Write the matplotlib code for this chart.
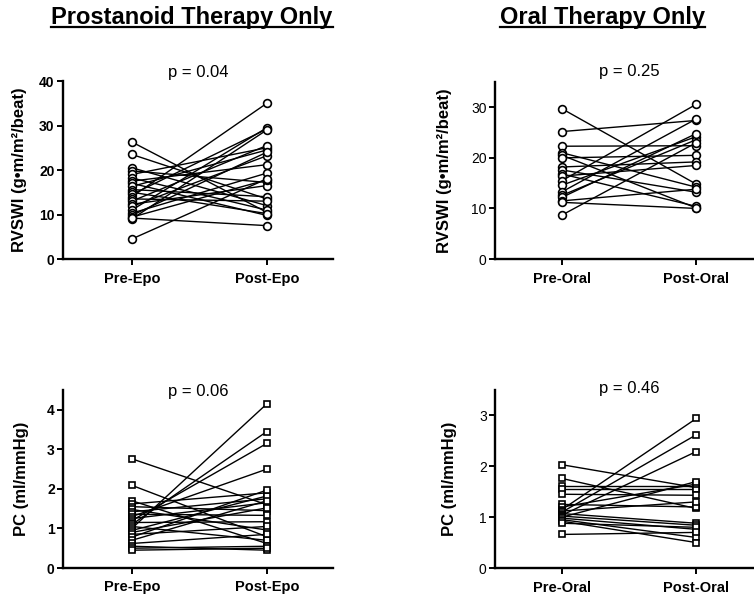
import matplotlib
matplotlib.use("Agg")
import matplotlib.pyplot as plt
from matplotlib.lines import Line2D

plt.rcParams['font.family'] = ['Liberation Sans', 'DejaVu Sans']

# ---------------- data ----------------
titles = ["Prostanoid Therapy Only", "Oral Therapy Only"]

epo_labels = ["Pre-Epo", "Post-Epo"]
oral_labels = ["Pre-Oral", "Post-Oral"]

rvswi_epo_pre = [26.3, 23.5, 20.5, 19.8, 19.0, 18.2, 17.5, 17.0, 16.3, 15.6, 15.0, 14.5,
                 14.0, 13.5, 13.0, 12.3, 11.8, 11.0, 10.3, 9.8, 9.4, 9.0, 9.2, 4.5]
rvswi_epo_post = [10.5, 13.5, 12.0, 17.2, 25.0, 11.0, 21.2, 9.8, 24.5, 14.0, 10.2, 29.2,
                  35.0, 13.0, 25.5, 16.5, 23.2, 29.5, 19.3, 24.0, 17.8, 29.0, 7.5, 18.0]

rvswi_oral_pre = [29.7, 25.2, 22.3, 21.0, 20.5, 20.0, 18.2, 17.6, 16.8, 16.4, 15.5, 14.6,
                  13.3, 12.6, 12.2, 11.5, 11.2, 8.7]
rvswi_oral_post = [14.8, 27.4, 22.4, 14.2, 10.1, 20.5, 19.2, 13.2, 10.4, 18.5, 30.6, 24.2,
                   27.7, 23.6, 24.8, 13.8, 10.0, 23.0]

pc_epo_pre = [2.76, 2.09, 1.70, 1.62, 1.55, 1.48, 1.42, 1.36, 1.30, 1.25, 1.20, 1.15,
              1.10, 1.05, 1.00, 0.95, 0.90, 0.85, 0.78, 0.70, 0.62, 0.55, 0.50, 0.45]
pc_epo_post = [1.60, 0.79, 0.62, 1.90, 1.45, 0.96, 1.75, 1.33, 2.50, 1.65, 3.15, 1.17,
               3.45, 0.70, 4.15, 1.82, 1.52, 1.05, 1.97, 1.70, 0.85, 0.45, 0.55, 0.50]

pc_oral_pre = [2.03, 1.76, 1.62, 1.55, 1.45, 1.25, 1.20, 1.15, 1.12, 1.10, 1.07, 1.04,
               1.02, 1.00, 0.98, 0.95, 0.92, 0.88, 0.66]
pc_oral_post = [1.58, 1.17, 1.62, 1.55, 1.43, 1.20, 1.65, 2.94, 1.30, 2.62, 0.88, 2.29,
                0.84, 1.70, 0.76, 0.60, 0.50, 0.80, 0.70]

p_values = ["p = 0.04", "p = 0.25", "p = 0.06", "p = 0.46"]
rvswi_label = "RVSWI (g\u2022m/m\u00b2/beat)"
pc_label = "PC (ml/mmHg)"

# ---------------- figure ----------------
W, H = 754, 599
fig = plt.figure(figsize=(W / 100, H / 100), dpi=100)


def px_axes(left, top, right, bottom):
    return fig.add_axes([left / W, 1 - bottom / H, (right - left) / W, (bottom - top) / H])


panels = [
    dict(rect=(63, 81, 333, 259), pre=rvswi_epo_pre, post=rvswi_epo_post, xl=epo_labels,
         ylim=(0, 40), yticks=[0, 10, 20, 30, 40], marker='o', ms=5.6, ylabel=rvswi_label,
         ylsize=12, labx=-0.133, ybold=True, pv=p_values[0], pvx=0.50, pvy=1.045, xlim=(-0.51, 1.49)),
    dict(rect=(495, 82, 754, 259), pre=rvswi_oral_pre, post=rvswi_oral_post, xl=oral_labels,
         ylim=(0, 35), yticks=[0, 10, 20, 30], marker='o', ms=5.6, ylabel=rvswi_label,
         ylsize=12, labx=-0.166, ybold=False, pv=p_values[1], pvx=0.52, pvy=1.062, xlim=(-0.5, 1.43)),
    dict(rect=(63, 390, 333, 568), pre=pc_epo_pre, post=pc_epo_post, xl=epo_labels,
         ylim=(0, 4.5), yticks=[0, 1, 2, 3, 4], marker='s', ms=4.8, ylabel=pc_label,
         ylsize=12, labx=-0.126, ybold=True, pv=p_values[2], pvx=0.50, pvy=0.994, xlim=(-0.51, 1.49)),
    dict(rect=(495, 390, 754, 568), pre=pc_oral_pre, post=pc_oral_post, xl=oral_labels,
         ylim=(0, 3.5), yticks=[0, 1, 2, 3], marker='s', ms=4.8, ylabel=pc_label,
         ylsize=12, labx=-0.147, ybold=False, pv=p_values[3], pvx=0.52, pvy=1.008, xlim=(-0.5, 1.43)),
]

for p in panels:
    ax = px_axes(*p['rect'])
    for a, b in zip(p['pre'], p['post']):
        ax.plot([0, 1], [a, b], color='black', lw=1.0, zorder=2, solid_capstyle='butt')
    ax.plot([0] * len(p['pre']), p['pre'], linestyle='none', marker=p['marker'], ms=p['ms'],
            mfc='white', mec='black', mew=1.2, zorder=3, clip_on=False)
    ax.plot([1] * len(p['post']), p['post'], linestyle='none', marker=p['marker'], ms=p['ms'],
            mfc='white', mec='black', mew=1.2, zorder=3, clip_on=False)
    ax.set_xlim(*p['xlim'])
    ax.set_ylim(*p['ylim'])
    ax.set_xticks([0, 1])
    ax.set_xticklabels(p['xl'], fontsize=10.5, fontweight='bold')
    ax.set_yticks(p['yticks'])
    ax.set_yticklabels([str(t) for t in p['yticks']], fontsize=10,
                       fontweight='bold' if p['ybold'] else 'normal')
    for s in ['top', 'right']:
        ax.spines[s].set_visible(False)
    for s in ['left', 'bottom']:
        ax.spines[s].set_linewidth(1.7)
        ax.spines[s].set_color('black')
    ax.tick_params(axis='both', direction='out', length=4, width=1.4, colors='black', pad=2)
    ax.tick_params(axis='x', pad=5)
    ax.set_ylabel(p['ylabel'], fontsize=p['ylsize'], fontweight='bold')
    ax.yaxis.set_label_coords(p['labx'], 0.5)
    ax.text(p['pvx'], p['pvy'], p['pv'], transform=ax.transAxes, ha='center', va='center',
            fontsize=12)
    ax.patch.set_alpha(0)

# titles with underline
title_pos = [(192, 24), (602, 24)]
fig.canvas.draw()
renderer = fig.canvas.get_renderer()
for t, (cx, by) in zip(titles, title_pos):
    txt = fig.text(cx / W, 1 - by / H, t, ha='center', va='baseline', fontsize=17,
                   fontweight='bold')
    bb = txt.get_window_extent(renderer=renderer)
    uy = 1 - 26.5 / H
    fig.lines.append(Line2D([bb.x0 / W, bb.x1 / W], [uy, uy], transform=fig.transFigure,
                            color='black', lw=1.6))

fig.savefig("out.png", dpi=100)
